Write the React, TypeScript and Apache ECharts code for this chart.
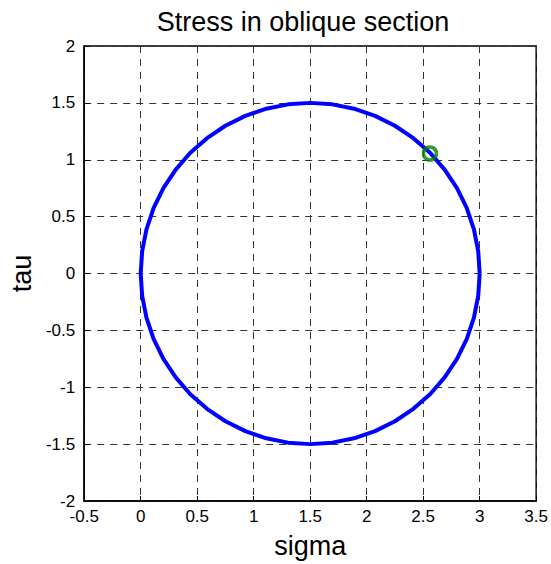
import React, { useEffect, useRef } from "react";
import * as echarts from "echarts";

const sigma = [
  3.0, 2.987, 2.949, 2.886, 2.799, 2.69, 2.561, 2.413, 2.25, 2.074, 1.888, 1.696, 1.5,
  1.304, 1.112, 0.926, 0.75, 0.587, 0.439, 0.31, 0.201, 0.114, 0.051, 0.013, 0.0,
  0.013, 0.051, 0.114, 0.201, 0.31, 0.439, 0.587, 0.75, 0.926, 1.112, 1.304, 1.5,
  1.696, 1.888, 2.074, 2.25, 2.413, 2.561, 2.69, 2.799, 2.886, 2.949, 2.987, 3.0,
];
const tau = [
  0.0, 0.196, 0.388, 0.574, 0.75, 0.913, 1.061, 1.19, 1.299, 1.386, 1.449, 1.487, 1.5,
  1.487, 1.449, 1.386, 1.299, 1.19, 1.061, 0.913, 0.75, 0.574, 0.388, 0.196, 0.0,
  -0.196, -0.388, -0.574, -0.75, -0.913, -1.061, -1.19, -1.299, -1.386, -1.449, -1.487, -1.5,
  -1.487, -1.449, -1.386, -1.299, -1.19, -1.061, -0.913, -0.75, -0.574, -0.388, -0.196, 0.0,
];
const pointSigma = [2.56];
const pointTau = [1.055];

const FONT = "Liberation Sans, Arial, sans-serif";

export default function App() {
  const ref = useRef<HTMLDivElement>(null);
  useEffect(() => {
    if (!ref.current) return;
    const chart = echarts.init(ref.current, null, { renderer: "svg" });
    const gridLine = { show: true, lineStyle: { color: "#333", type: [7, 6] as any, width: 1 } };
    const axisLine = { show: true, onZero: false, lineStyle: { color: "#000", width: 1.5 } };
    chart.setOption({
      animation: false,
      backgroundColor: "#fff",
      title: {
        text: "Stress in oblique section",
        left: 298,
        top: 3,
        textAlign: "center",
        textStyle: { fontFamily: FONT, fontSize: 27, fontWeight: "normal", color: "#000" },
      },
      grid: {
        left: 83,
        right: 11,
        top: 46,
        bottom: 60,
        show: true,
        borderColor: "#000",
        borderWidth: 1.5,
        backgroundColor: "#fff",
      },
      xAxis: {
        type: "value",
        min: -0.5,
        max: 3.5,
        interval: 0.5,
        name: "sigma",
        nameLocation: "middle",
        nameGap: 31,
        nameTextStyle: { fontFamily: FONT, fontSize: 27, color: "#000" },
        axisLine,
        axisTick: { show: true, inside: true, length: 5, lineStyle: { color: "#000" } },
        axisLabel: { fontFamily: FONT, fontSize: 17, color: "#000", margin: 7 },
        splitLine: gridLine,
      },
      yAxis: {
        type: "value",
        min: -2,
        max: 2,
        interval: 0.5,
        name: "tau",
        nameLocation: "middle",
        nameGap: 44,
        nameTextStyle: { fontFamily: FONT, fontSize: 27, color: "#000" },
        axisLine,
        axisTick: { show: true, inside: true, length: 5, lineStyle: { color: "#000" } },
        axisLabel: { fontFamily: FONT, fontSize: 17, color: "#000", margin: 9 },
        splitLine: gridLine,
      },
      series: [
        {
          type: "line",
          data: sigma.map((s, i) => [s, tau[i]]),
          showSymbol: false,
          lineStyle: { color: "#0000ff", width: 4 },
          z: 3,
        },
        {
          type: "scatter",
          data: pointSigma.map((s, i) => [s, pointTau[i]]),
          symbol: "circle",
          symbolSize: 13,
          itemStyle: { color: "rgba(0,0,0,0)", borderColor: "#008000", borderWidth: 3.5 },
          z: 4,
        },
      ],
    });
    return () => chart.dispose();
  }, []);
  return (
    <div
      ref={ref}
      style={{ position: "absolute", left: 0, top: 0, width: 551, height: 564 }}
    />
  );
}
